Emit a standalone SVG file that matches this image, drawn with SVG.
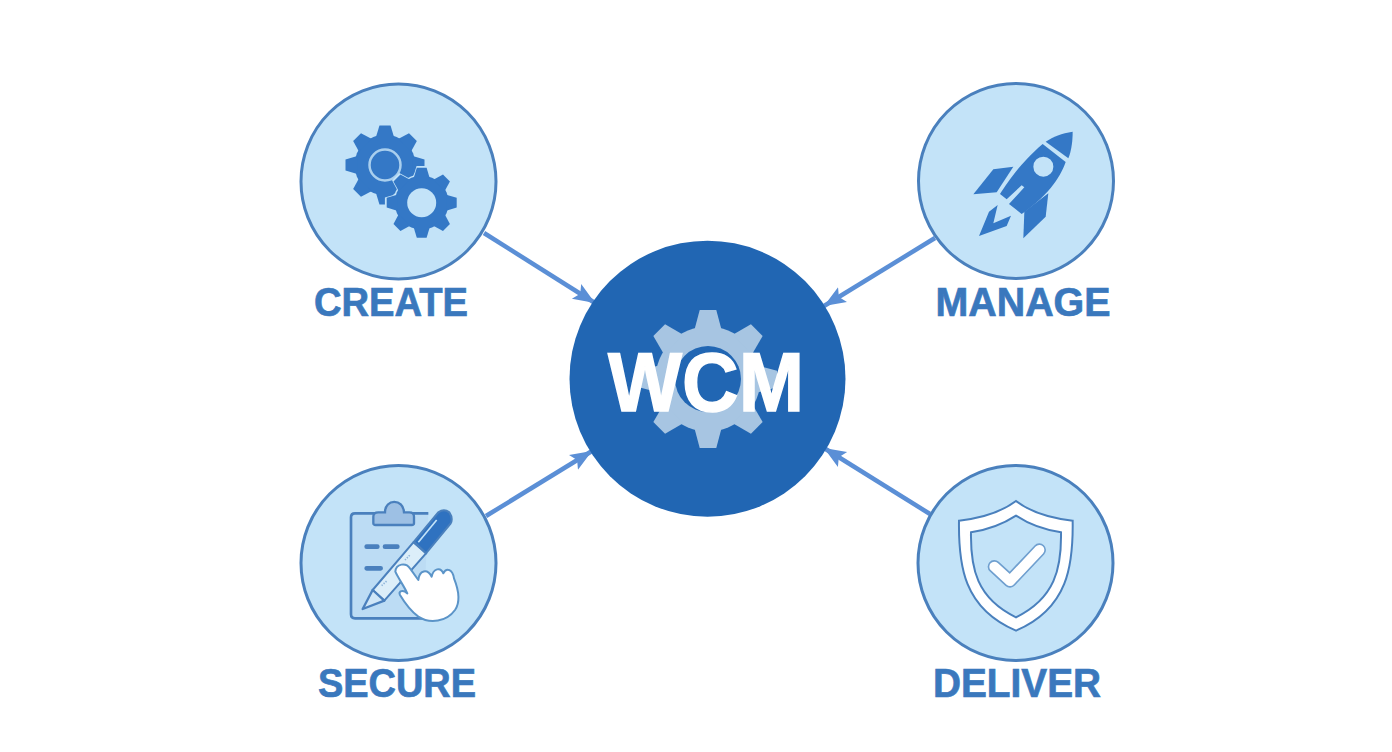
<svg xmlns="http://www.w3.org/2000/svg" xmlns:xlink="http://www.w3.org/1999/xlink" width="1392" height="752" viewBox="0 0 1392 752">
<style>
.ring{fill:#c3e3f8;stroke:#4a80bd;stroke-width:3}
.lab{font-family:"Liberation Sans",Arial,sans-serif;font-weight:700;font-size:40px;fill:#3a78bd;stroke:#3a78bd;stroke-width:.7;text-anchor:middle}
.conn{fill:none;stroke:#5b8fd6;stroke-width:4.5}
</style>
<defs>
<marker id="ah" markerUnits="userSpaceOnUse" markerWidth="24" markerHeight="20" refX="20" refY="9" orient="auto" viewBox="0 0 22 18"><path d="M0,1 L20,9 L0,17 L4,9 Z" fill="#5b8fd6"/></marker>
<path id="t1" d="M-23,-70 L-14,-100 L14,-100 L23,-70 Z"/>
<path id="t2" d="M-20,-70 L-12,-100 L12,-100 L20,-70 Z"/>
<g id="gear"><circle r="77"/><use xlink:href="#t1"/><use xlink:href="#t1" transform="rotate(45)"/><use xlink:href="#t1" transform="rotate(90)"/><use xlink:href="#t1" transform="rotate(135)"/><use xlink:href="#t1" transform="rotate(180)"/><use xlink:href="#t1" transform="rotate(225)"/><use xlink:href="#t1" transform="rotate(270)"/><use xlink:href="#t1" transform="rotate(315)"/></g>
<g id="gearb"><circle r="76"/><use xlink:href="#t2"/><use xlink:href="#t2" transform="rotate(45)"/><use xlink:href="#t2" transform="rotate(90)"/><use xlink:href="#t2" transform="rotate(135)"/><use xlink:href="#t2" transform="rotate(180)"/><use xlink:href="#t2" transform="rotate(225)"/><use xlink:href="#t2" transform="rotate(270)"/><use xlink:href="#t2" transform="rotate(315)"/></g>
</defs>
<rect width="1392" height="752" fill="#fff"/>
<g id="connectors">
<path class="conn" d="M484,233 L595,303" marker-end="url(#ah)"/>
<path class="conn" d="M935,238 L824,306" marker-end="url(#ah)"/>
<path class="conn" d="M486,516 L592,451" marker-end="url(#ah)"/>
<path class="conn" d="M930,514 L824,448" marker-end="url(#ah)"/>
</g>
<g id="wcm">
<circle cx="707.5" cy="378.7" r="138" fill="#2166b3"/>
<use xlink:href="#gearb" transform="translate(708,379) scale(.69)" fill="#a7c5e2"/>
<circle cx="708" cy="379" r="33" fill="#2166b3"/>
<text x="706" y="410.5" font-family="'Liberation Sans',Arial,sans-serif" font-weight="700" font-size="84" fill="#fff" stroke="#fff" stroke-width="1.5" text-anchor="middle" textLength="196" lengthAdjust="spacingAndGlyphs">WCM</text>
</g>
<g id="create">
<circle class="ring" cx="398.5" cy="181.5" r="97.5"/>
<use xlink:href="#gear" transform="translate(385,165) scale(.395)" fill="#3478c6"/>
<circle cx="385" cy="165" r="15.5" fill="#3478c6" stroke="#a9cfee" stroke-width="2.5"/>
<use xlink:href="#gear" transform="translate(421.7,202.7) scale(.368)" fill="#c3e3f8"/>
<use xlink:href="#gear" transform="translate(421.7,202.7) scale(.35)" fill="#3478c6"/>
<circle cx="421.7" cy="202.7" r="14.5" fill="#c3e3f8"/>
<text class="lab" x="391" y="316" textLength="154" lengthAdjust="spacingAndGlyphs">CREATE</text>
</g>
<g id="manage">
<circle class="ring" cx="1016" cy="181" r="97.5"/>
<g transform="translate(905,70) scale(.33333)" fill="#3478c6">
<path d="M503,185 C470,190 445,200 422,215 L490,265 C500,240 503,210 503,185 Z"/>
<path fill-rule="evenodd" d="M413,222 L482,276 C470,310 440,370 350,432 L312,402 L358,352 L350,346 L305,388 L285,372 C310,335 345,280 413,222 Z M415,260 A30,30 0 1 0 415.1,320 A30,30 0 1 0 415,260 Z"/>
<path d="M325,290 L265,298 L205,373 L275,367 Z"/>
<path d="M430,370 L422,440 L355,505 L358,425 Z"/>
<path d="M278,405 L252,425 L222,498 L305,468 L318,437 L265,460 Z"/>
</g>
<text class="lab" x="1023" y="316" textLength="175" lengthAdjust="spacingAndGlyphs">MANAGE</text>
</g>
<g id="secure">
<circle class="ring" cx="398.5" cy="563" r="97.5"/>
<g transform="translate(290,455) scale(.33333)">
<path d="M415,175 H195 Q183,175 183,187 V478 Q183,490 195,490 H400" fill="#bcdcf4" stroke="#4a80bd" stroke-width="8"/>
<path d="M250,205 V185 Q250,172 265,172 H285 C285,130 340,130 342,172 H358 Q372,172 372,185 V205 Q372,210 365,210 H257 Q250,210 250,205 Z" fill="#9dc0e4" stroke="#4a80bd" stroke-width="7"/>
<path d="M230,275 H262 M285,275 H322 M230,340 H272" stroke="#4a80bd" stroke-width="14" stroke-linecap="round"/>
<path d="M248,405 L370,262 L408,295 L283,437 Z" fill="#dceef9" stroke="#4a80bd" stroke-width="6"/>
<path d="M275,392 L290,378 M345,315 L362,298" stroke="#8fb5da" stroke-width="5" stroke-dasharray="4 4" fill="none"/>
<path d="M218,462 L248,405 L283,437 Z" fill="#cfe6f7" stroke="#4a80bd" stroke-width="7" stroke-linejoin="round"/>
<path d="M372,260 L445,172 Q462,160 478,172 Q490,190 482,205 L408,295 Z" fill="#2f72c0" stroke="#4a80bd" stroke-width="6"/>
<path d="M440,195 L385,262" stroke="#c3e3f8" stroke-width="5" fill="none"/>
<path d="M316,350 C318,325 348,322 360,340 L385,375 C388,345 412,340 425,365 C430,340 452,335 460,355 C470,335 488,345 492,370 C508,410 512,440 495,465 C470,500 420,508 385,485 C365,470 345,445 330,420 C325,410 335,405 345,410 L352,415 C340,390 325,370 316,350 Z" fill="#fff" stroke="#5b94c8" stroke-width="6" stroke-linejoin="round"/>
</g>
<text class="lab" x="397" y="697" textLength="158" lengthAdjust="spacingAndGlyphs">SECURE</text>
</g>
<g id="deliver">
<circle class="ring" cx="1015.5" cy="563" r="97.5"/>
<g transform="translate(905,455) scale(.33333)">
<path d="M333,138 C375,170 440,190 503,197 C505,330 490,460 333,527 C175,460 160,330 162,197 C225,190 290,170 333,138 Z" fill="#fff" stroke="#4a80bd" stroke-width="6"/>
<path d="M333,182 C375,210 420,225 468,232 C470,340 450,430 333,487 C215,430 196,340 198,232 C245,225 290,210 333,182 Z" fill="#c3e3f8" stroke="#4a80bd" stroke-width="6"/>
<path d="M268,335 L315,378 L403,285" fill="none" stroke="#6f9fcf" stroke-width="40" stroke-linecap="round" stroke-linejoin="round"/>
<path d="M268,335 L315,378 L403,285" fill="none" stroke="#fff" stroke-width="30" stroke-linecap="round" stroke-linejoin="round"/>
</g>
<text class="lab" x="1017" y="697" textLength="168" lengthAdjust="spacingAndGlyphs">DELIVER</text>
</g>
</svg>
